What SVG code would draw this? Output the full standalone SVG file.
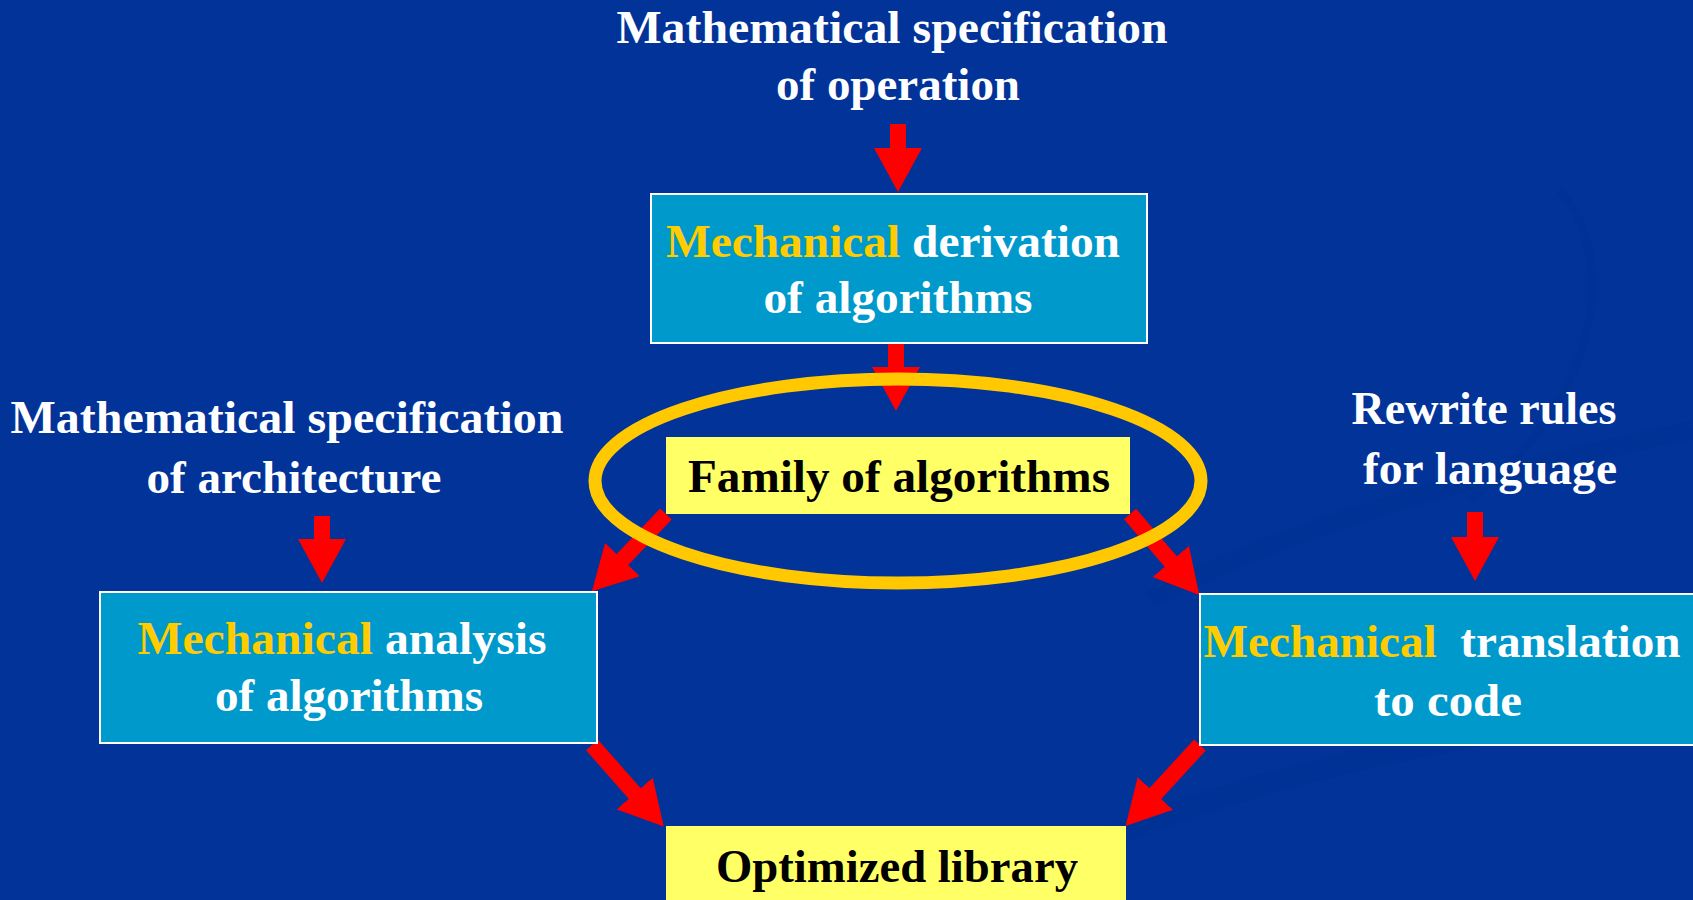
<svg xmlns="http://www.w3.org/2000/svg" width="1693" height="900" viewBox="0 0 1693 900">
<style>
.w{font-family:"Liberation Serif","Times New Roman",serif;font-weight:bold;font-size:46px;fill:#ffffff;text-anchor:middle}
.k{font-family:"Liberation Serif","Times New Roman",serif;font-weight:bold;font-size:46px;fill:#000000;text-anchor:middle}
.y{fill:#ffcc00}
.box{fill:#0099cc;stroke:#ffffff;stroke-width:2}
.ybox{fill:#ffff66}
.arr{stroke:#ff0000;stroke-width:16;fill:none;marker-end:url(#head)}
</style>
<defs>
<marker id="head" markerUnits="userSpaceOnUse" markerWidth="44" markerHeight="48" viewBox="0 0 44 48" refX="2" refY="24" orient="auto">
<path d="M0,0 L44,24 L0,48 z" fill="#ff0000"/>
</marker>
</defs>
<rect x="0" y="0" width="1693" height="900" fill="#013399"/>
<g id="bg-swoosh" fill="none" stroke="#00308f" opacity="0.35">
<path d="M1150,600 C1300,520 1500,470 1693,430" stroke-width="18"/>
<path d="M1100,840 C1300,760 1500,730 1693,700" stroke-width="22"/>
<path d="M1560,190 C1620,260 1600,400 1470,500" stroke-width="8"/>
</g>
<g id="connectors">
<line class="arr" x1="898" y1="124" x2="898" y2="150"/>
<line class="arr" x1="896" y1="343" x2="896" y2="369"/>
<line class="arr" x1="322" y1="516" x2="322" y2="541"/>
<line class="arr" x1="1475" y1="512" x2="1475" y2="539"/>
<line class="arr" x1="666" y1="514" x2="621" y2="561"/>
<line class="arr" x1="1130" y1="514" x2="1172" y2="563"/>
<line class="arr" x1="592" y1="745" x2="636" y2="795"/>
<line class="arr" x1="1200" y1="745" x2="1154" y2="795"/>
</g>
<g id="highlight">
<ellipse cx="898" cy="481" rx="303" ry="102" fill="none" stroke="#ffc800" stroke-width="13"/>
</g>
<g id="spec-operation">
<text class="w" x="892" y="43" textLength="551" lengthAdjust="spacingAndGlyphs">Mathematical specification</text>
<text class="w" x="898" y="100" textLength="244" lengthAdjust="spacingAndGlyphs">of operation</text>
</g>
<g id="derivation">
<rect class="box" x="651" y="194" width="496" height="149"/>
<text class="w" x="893" y="257" textLength="454" lengthAdjust="spacingAndGlyphs"><tspan class="y">Mechanical</tspan> derivation</text>
<text class="w" x="898" y="313" textLength="269" lengthAdjust="spacingAndGlyphs">of algorithms</text>
</g>
<g id="family">
<rect class="ybox" x="666" y="437" width="464" height="77"/>
<text class="k" x="899" y="492" textLength="422" lengthAdjust="spacingAndGlyphs">Family of algorithms</text>
</g>
<g id="spec-architecture">
<text class="w" x="287" y="433" textLength="553" lengthAdjust="spacingAndGlyphs">Mathematical specification</text>
<text class="w" x="294" y="493" textLength="295" lengthAdjust="spacingAndGlyphs">of architecture</text>
</g>
<g id="analysis">
<rect class="box" x="100" y="592" width="497" height="151"/>
<text class="w" x="342" y="654" textLength="409" lengthAdjust="spacingAndGlyphs"><tspan class="y">Mechanical</tspan> analysis</text>
<text class="w" x="349" y="711" textLength="268" lengthAdjust="spacingAndGlyphs">of algorithms</text>
</g>
<g id="rewrite-rules">
<text class="w" x="1484" y="424" textLength="265" lengthAdjust="spacingAndGlyphs">Rewrite rules</text>
<text class="w" x="1490" y="484" textLength="254" lengthAdjust="spacingAndGlyphs">for language</text>
</g>
<g id="translation">
<rect class="box" x="1200" y="594" width="505" height="151"/>
<text class="w" x="1442" y="657" textLength="477" lengthAdjust="spacingAndGlyphs" style="white-space:pre"><tspan class="y">Mechanical</tspan>  translation</text>
<text class="w" x="1448" y="716" textLength="148" lengthAdjust="spacingAndGlyphs">to code</text>
</g>
<g id="library">
<rect class="ybox" x="666" y="826" width="460" height="80"/>
<text class="k" x="897" y="882" textLength="362" lengthAdjust="spacingAndGlyphs">Optimized library</text>
</g>
</svg>
